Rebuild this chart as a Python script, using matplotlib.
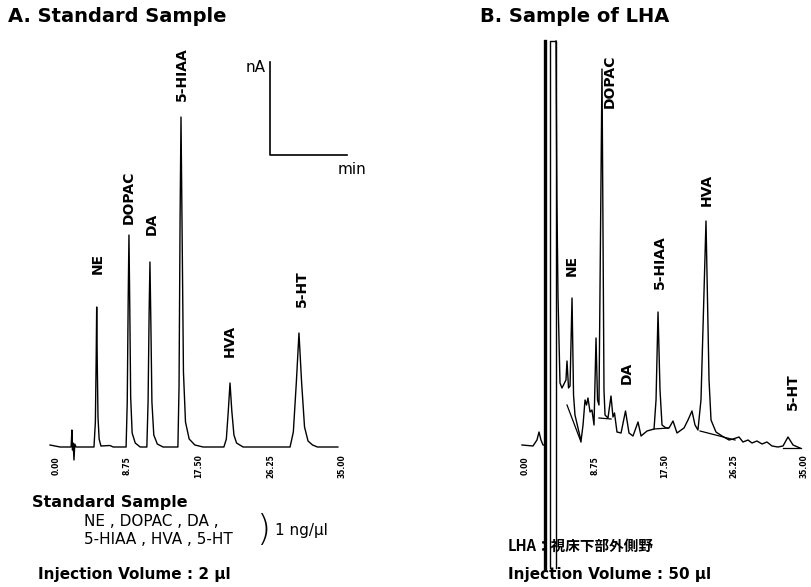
import matplotlib
matplotlib.use("Agg")
import matplotlib.pyplot as plt

plt.rcParams['font.family'] = ['DejaVu Sans']

# ---- data: panel A (standard sample), time in min, detector response in arbitrary units
a_time = [-0.73, 0.5, 1.85, 1.95, 2.02, 2.1, 2.2, 2.3, 2.45,
          4.65, 4.82, 4.92, 4.98, 5.05, 5.14, 5.28, 5.5, 6.6, 7.0,
          8.58, 8.72, 8.84, 8.93, 9.03, 9.14, 9.32, 9.7, 10.3,
          11.12, 11.27, 11.40, 11.50, 11.61, 11.74, 11.97, 12.4, 13.1,
          14.92, 15.06, 15.19, 15.30, 15.43, 15.60, 15.85, 16.3, 17.0, 18.0,
          20.55, 20.85, 21.08, 21.3, 21.52, 21.78, 22.1, 22.9,
          28.65, 29.05, 29.42, 29.74, 30.06, 30.42, 30.85, 31.4, 32.0, 34.5]
a_signal = [2, 0, 0, 17, -3, 4, -13, 3, 0,
            0, 25, 90, 140, 85, 30, 8, 1, 1.5, 0,
            0, 45, 150, 212, 140, 50, 14, 4, 0,
            0, 45, 135, 185, 125, 45, 12, 3, 0,
            0, 60, 230, 330, 220, 75, 25, 8, 2, 0,
            0, 8, 35, 64, 36, 12, 4, 0,
            0, 15, 65, 114, 65, 20, 6, 2, 0, 0]
a_names = ['NE', 'DOPAC', 'DA', '5-HIAA', 'HVA', '5-HT']
a_label_t = [5.14, 8.93, 11.75, 15.42, 21.3, 30.1]
a_label_y = [184, 250, 223, 373, 106, 158]

# ---- data: panel B (LHA sample)
b_time = [-0.38, 1.0, 1.5, 1.76, 2.0, 2.26, 2.45]
b_signal = [2, 1, 7, 15, 7, 2, 2]
b2_time = [3.89, 4.0, 4.14, 4.39, 4.64, 4.89, 5.14, 5.27, 5.46, 5.65, 5.9,
           6.09, 6.27, 6.65, 7.03, 7.28, 7.53, 7.72, 7.9, 8.16, 8.4, 8.66,
           8.91, 9.1, 9.28, 9.66, 9.91, 10.04, 10.41, 10.79, 11.04, 11.23,
           11.54, 12.05, 12.61, 13.05, 13.55, 14.18, 14.56, 15.31, 16.19,
           16.44, 16.69, 16.94, 17.19, 17.69, 18.07, 18.57, 19.07, 19.95,
           20.45, 20.95, 21.33, 21.7, 22.08, 22.71, 23.09, 23.34, 23.96,
           24.72, 25.6, 26.1, 26.85, 27.35, 27.98, 28.48, 29.1, 29.74,
           30.36, 30.99, 31.74, 32.37, 33.0, 33.63, 34.5]
b2_signal = [406, 250, 150, 64, 59, 63, 67, 86, 59, 61, 149,
             52, 32, 19, 6, 22, 47, 42, 49, 35, 37, 22,
             109, 47, 42, 378, 57, 32, 29, 51, 30, 34,
             15, 14, 36, 14, 11, 25, 11, 16, 18,
             47, 135, 57, 22, 19, 19, 26, 14, 19,
             27, 36, 22, 17, 47, 226, 67, 27, 15,
             11, 7, 8, 10, 5, 7, 4, 6, 3,
             5, 1, 0, 1, 10, 2, -1]
# integrator baseline drops
b_base_t = [(5.27, 7.03), (9.28, 10.8), (16.19, 18.0), (21.96, 26.35), (32.37, 34.6)]
b_base_y = [(42, 5), (29, 28), (18, 19), (16, 7), (-1, -1)]
b_names = ['NE', 'DOPAC', 'DA', '5-HIAA', 'HVA', '5-HT']
b_label_t = [5.9, 10.66, 12.8, 16.94, 22.84, 33.63]
b_label_y = [182, 366, 74, 185, 257, 55]

tick_vals = [0.0, 8.75, 17.5, 26.25, 35.0]
tick_text = ['0.00', '8.75', '17.50', '26.25', '35.00']

W, H = 812, 587
fig = plt.figure(figsize=(W / 100, H / 100), dpi=100)

def px(x, y):
    return x / W, 1 - y / H

axA = fig.add_axes([40 / W, 7 / H, 320 / W, 550 / H])
axB = fig.add_axes([505 / W, 7 / H, 307 / W, 550 / H])
axA.set_xlim(-1.958, 37.21)
axB.set_xlim(-2.51, 36.01)
for ax in (axA, axB):
    ax.set_ylim(-133, 417)
    ax.axis('off')

lw = 1.0
axA.plot(a_time, a_signal, color='black', lw=lw)
for n, t, y in zip(a_names, a_label_t, a_label_y):
    axA.text(t, y, n, rotation=90, ha='center', va='center',
             fontsize=10, fontweight='bold')

# scale bar
axA.plot([26.19, 26.19, 35.6], [385, 292, 292], color='black', lw=1.2)
axA.text(25.6, 379, 'nA', ha='right', va='center', fontsize=11)
axA.text(34.5, 277, 'min', ha='left', va='center', fontsize=11)

axB.plot(b_time, b_signal, color='black', lw=lw, clip_on=False)
axB.plot(b2_time, b2_signal, color='black', lw=lw, clip_on=False)
# solvent front
axB.plot([2.5, 2.5], [-121, 406], color='black', lw=2.4, clip_on=False)
axB.plot([3.14, 3.14, 3.89, 3.89], [-121, 406, 406, -121], color='black',
         lw=1.0, clip_on=False)
for (t0, t1), (y0, y1) in zip(b_base_t, b_base_y):
    axB.plot([t0, t1], [y0, y1], color='black', lw=0.9)
for n, t, y in zip(b_names, b_label_t, b_label_y):
    axB.text(t, y, n, rotation=90, ha='center', va='center',
             fontsize=10, fontweight='bold')

for ax in (axA, axB):
    for v, s in zip(tick_vals, tick_text):
        ax.text(v, -19, s, rotation=90, ha='center', va='center',
                fontsize=5.5, fontweight='bold', clip_on=False)

# titles
fig.text(*px(8, 17), 'A. Standard Sample', ha='left', va='center',
         fontsize=14, fontweight='bold')
fig.text(*px(480, 17), 'B. Sample of LHA', ha='left', va='center',
         fontsize=14, fontweight='bold')

# notes below panel A
fig.text(*px(32, 502), 'Standard Sample', ha='left', va='center',
         fontsize=11.5, fontweight='bold')
fig.text(*px(84, 522), 'NE , DOPAC , DA ,', ha='left', va='center', fontsize=11)
fig.text(*px(84, 540), '5-HIAA , HVA , 5-HT', ha='left', va='center', fontsize=11)
fig.text(*px(263, 530), ')', ha='center', va='center', fontsize=26,
         fontweight='light')
fig.text(*px(275, 530), '1 ng/μl', ha='left', va='center', fontsize=11)
fig.text(*px(38, 574), 'Injection Volume : 2 μl', ha='left', va='center',
         fontsize=11, fontweight='bold')

# notes below panel B
fig.text(*px(508, 546), 'LHA：視床下部外側野', ha='left', va='center',
         fontsize=10.5, fontweight='bold',
         family=['Noto Sans CJK JP', 'DejaVu Sans'])
fig.text(*px(508, 575), 'Injection Volume : 50 μl', ha='left', va='center',
         fontsize=11, fontweight='bold')

fig.savefig('out.png', dpi=100)
